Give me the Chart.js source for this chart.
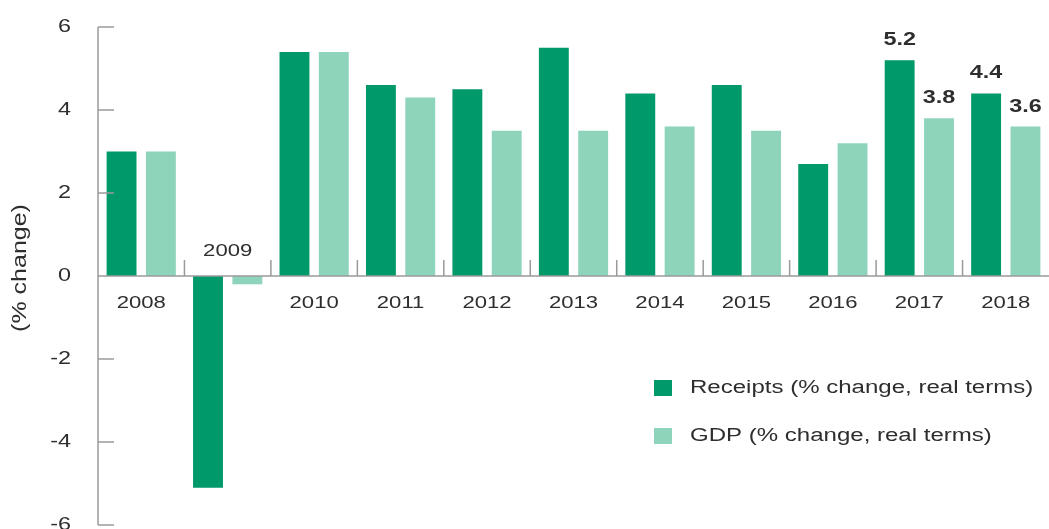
<!DOCTYPE html>
<html>
<head>
<meta charset="utf-8">
<script src="https://cdn.jsdelivr.net/npm/chart.js@4.4.1/dist/chart.umd.min.js"></script>
<style>
html,body{margin:0;padding:0;background:#fff;}
</style>
</head>
<body>
<canvas id="chart" width="1049" height="529"></canvas>
<script>
const years=["2008","2009","2010","2011","2012","2013","2014","2015","2016","2017","2018"];
const receipts=[3.0,-5.1,5.4,4.6,4.5,5.5,4.4,4.6,2.7,5.2,4.4];
const gdp=[3.0,-0.2,5.4,4.3,3.5,3.5,3.6,3.5,3.2,3.8,3.6];
const yTicks=[-6,-4,-2,0,2,4,6];
const labelledYears=["2017","2018"];
const seriesNames=["Receipts (% change, real terms)","GDP (% change, real terms)"];
const colours=["#00996a","#8dd4bb"];

const ink="#2e2e2e";
const axisGrey="#9a9a9a";
const stretch=1.3;

function text(ctx,s,x,y,font,align,sx){
    ctx.save();
    ctx.translate(x,y);
    ctx.scale(sx,1);
    ctx.font=font;
    ctx.fillStyle=ink;
    ctx.textAlign=align;
    ctx.textBaseline="middle";
    ctx.fillText(s,0,0);
    ctx.restore();
}

const decor={
    id:"decor",
    afterDatasetsDraw(chart){
        const ctx=chart.ctx;
        const xs=chart.scales.x;
        const ys=chart.scales.y;
        const area=chart.chartArea;
        const zero=ys.getPixelForValue(0);
        ctx.save();
        ctx.strokeStyle=axisGrey;
        ctx.lineWidth=1.5;
        // y axis line and inward ticks
        ctx.beginPath();
        ctx.moveTo(area.left,ys.getPixelForValue(yTicks[0]));
        ctx.lineTo(area.left,ys.getPixelForValue(yTicks[yTicks.length-1]));
        yTicks.forEach(v=>{
            const py=ys.getPixelForValue(v);
            ctx.moveTo(area.left,py);
            ctx.lineTo(area.left+16,py);
        });
        // zero line
        ctx.moveTo(area.left,zero);
        ctx.lineTo(area.right,zero);
        // category separators
        for(let i=1;i<years.length;i++){
            const bx=(xs.getPixelForValue(i-1)+xs.getPixelForValue(i))/2;
            ctx.moveTo(bx,zero);
            ctx.lineTo(bx,zero-16);
        }
        ctx.stroke();
        ctx.restore();

        // y tick labels
        yTicks.forEach(v=>{
            text(ctx,String(v),71,ys.getPixelForValue(v),"18px 'Liberation Sans', Arial, sans-serif","right",stretch);
        });

        // y title
        ctx.save();
        ctx.translate(20,268);
        ctx.rotate(-Math.PI/2);
        ctx.scale(1.25,1);
        ctx.font="20px 'Liberation Sans', Arial, sans-serif";
        ctx.fillStyle=ink;
        ctx.textAlign="center";
        ctx.textBaseline="middle";
        ctx.fillText("(% change)",0,0);
        ctx.restore();

        // category labels
        years.forEach((yr,i)=>{
            const cx=xs.getPixelForValue(i);
            const py=receipts[i]<0?zero-25:zero+27;
            text(ctx,yr,cx,py,"17px 'Liberation Sans', Arial, sans-serif","center",stretch);
        });

        // value labels
        [receipts,gdp].forEach((arr,d)=>{
            const meta=chart.getDatasetMeta(d);
            years.forEach((yr,i)=>{
                if(!labelledYears.includes(yr))return;
                const el=meta.data[i];
                text(ctx,arr[i].toFixed(1),el.x,el.y-20,"bold 18px 'Liberation Sans', Arial, sans-serif","center",stretch);
            });
        });

        // legend
        const legendY=[388,436];
        seriesNames.forEach((name,d)=>{
            ctx.fillStyle=colours[d];
            ctx.fillRect(654,legendY[d]-8,18,16);
            text(ctx,name,690,legendY[d],"18px 'Liberation Sans', Arial, sans-serif","left",1.335);
        });
    }
};

new Chart(document.getElementById("chart"),{
    type:"bar",
    data:{
        labels:years,
        datasets:[
            {label:seriesNames[0],data:receipts,backgroundColor:colours[0],borderWidth:0,categoryPercentage:0.91,barPercentage:0.76},
            {label:seriesNames[1],data:gdp,backgroundColor:colours[1],borderWidth:0,categoryPercentage:0.91,barPercentage:0.76}
        ]
    },
    options:{
        responsive:false,
        animation:false,
        layout:{padding:{top:27,bottom:4,left:98,right:-5}},
        plugins:{legend:{display:false},tooltip:{enabled:false}},
        scales:{
            x:{display:false},
            y:{display:false,min:-6,max:6}
        }
    },
    plugins:[decor]
});
</script>
</body>
</html>
